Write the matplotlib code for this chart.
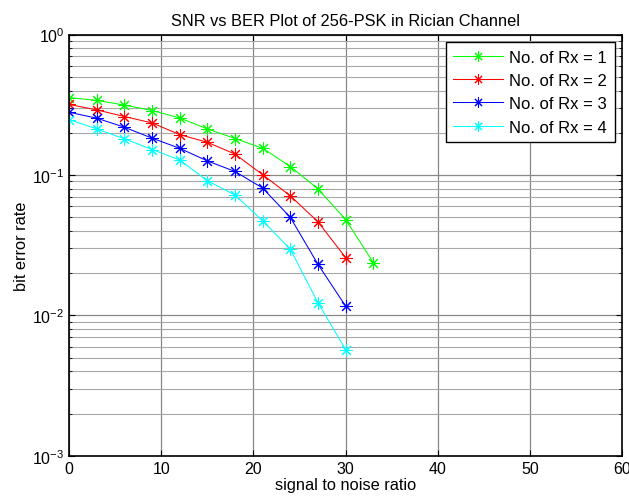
import matplotlib
matplotlib.use("Agg")
import matplotlib.pyplot as plt
from matplotlib.ticker import LogLocator, NullFormatter, FixedLocator

plt.rcParams['font.family'] = ['Liberation Sans', 'DejaVu Sans']

snr1 = [0, 3, 6, 9, 12, 15, 18, 21, 24, 27, 30, 33]
ber1 = [0.356, 0.340, 0.315, 0.288, 0.255, 0.213, 0.182, 0.155, 0.115, 0.0796, 0.0482, 0.0238]
snr2 = [0, 3, 6, 9, 12, 15, 18, 21, 24, 27, 30]
ber2 = [0.318, 0.291, 0.261, 0.235, 0.194, 0.171, 0.141, 0.1005, 0.0711, 0.0464, 0.0258]
snr3 = [0, 3, 6, 9, 12, 15, 18, 21, 24, 27, 30]
ber3 = [0.280, 0.254, 0.219, 0.183, 0.155, 0.126, 0.106, 0.0807, 0.0499, 0.0231, 0.01165]
snr4 = [0, 3, 6, 9, 12, 15, 18, 21, 24, 27, 30]
ber4 = [0.248, 0.213, 0.181, 0.152, 0.128, 0.091, 0.072, 0.0472, 0.0296, 0.0123, 0.00571]
labels = ['No. of Rx = 1', 'No. of Rx = 2', 'No. of Rx = 3', 'No. of Rx = 4']
colors = ['#00ff00', '#ff0000', '#0000ff', '#00ffff']

fig = plt.figure(figsize=(6.29, 5.02), dpi=100)
ax = fig.add_axes([0.110, 0.090, 0.879, 0.839])

for x, y, lab, c in zip([snr1, snr2, snr3, snr4], [ber1, ber2, ber3, ber4], labels, colors):
    ax.semilogy(x, y, '-', marker=(8, 2, 0), color=c, label=lab, linewidth=0.75,
                markersize=9, markeredgewidth=0.75)

ax.set_xlim(0, 60)
ax.set_ylim(1e-3, 1e0)
ax.xaxis.set_major_locator(FixedLocator([0, 10, 20, 30, 40, 50, 60]))
ax.yaxis.set_major_locator(LogLocator(base=10, numticks=10))
ax.yaxis.set_minor_locator(LogLocator(base=10, subs=range(2, 10), numticks=10))
ax.yaxis.set_minor_formatter(NullFormatter())

ax.grid(True, which='major', color='#888888', linewidth=0.9)
ax.grid(True, which='minor', axis='y', color='#a8a8a8', linewidth=0.8)
ax.set_axisbelow(True)

ax.tick_params(which='both', direction='in', top=True, right=True, labelsize=11.5)
ax.tick_params(which='major', length=4)
ax.tick_params(which='minor', length=2)
for s in ax.spines.values():
    s.set_linewidth(1.2)

ax.set_title('SNR vs BER Plot of 256-PSK in Rician Channel', fontsize=11.8, pad=7)
ax.set_xlabel('signal to noise ratio', fontsize=11.8, labelpad=1)
ax.set_ylabel('bit error rate', fontsize=11.8, labelpad=2)

leg = ax.legend(loc='upper right', fontsize=12, fancybox=False, framealpha=1,
                edgecolor='black', borderaxespad=0.45, handlelength=3.0,
                borderpad=0.45, labelspacing=0.5, handletextpad=0.35,
                markerscale=0.8)
leg.get_frame().set_linewidth(1.0)

fig.savefig('out.png', dpi=100)
